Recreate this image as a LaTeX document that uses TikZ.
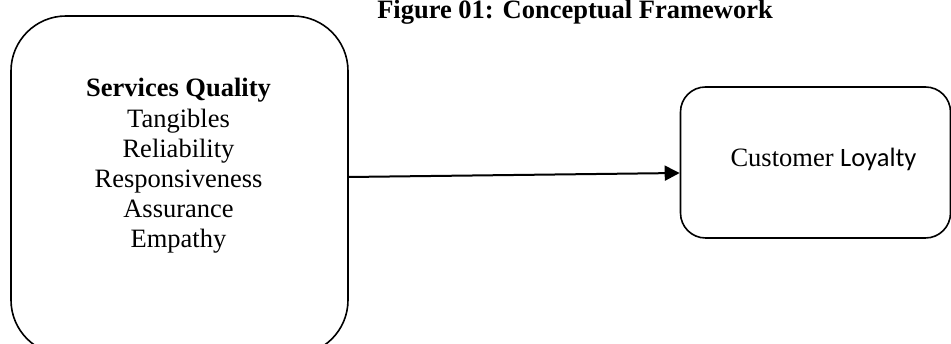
\documentclass[tikz,border=0pt]{standalone}
\usepackage{fontspec}
\setmainfont{Liberation Serif}
\newfontfamily\calfont{Carlito}
\usetikzlibrary{arrows.meta}
\begin{document}
\begin{tikzpicture}[x=1pt,y=1pt,
  boxline/.style={draw=black, line width=1.6pt, inner sep=0pt},
  txt/.style={inner sep=0pt, font=\fontsize{26.5}{30.2}\selectfont},
  conn/.style={draw=black, line width=2pt, -{Triangle[length=15pt,width=15pt]}}]
\useasboundingbox (0,0) rectangle (951,344);
\clip (0,0) rectangle (951,344);
\node[txt, anchor=base] (title) at (575,325) {\bfseries Figure 01: Conceptual Framework};
\node[boxline, rounded corners=55pt, minimum width=337pt, minimum height=339pt] (sq) at (179.5,158.5) {};
\node[txt, align=center, anchor=base] (sqtext) at (178.5,96) {\textbf{Services Quality}\\Tangibles\\Reliability\\Responsiveness\\Assurance\\Empathy};
\node[boxline, rounded corners=25pt, minimum width=270pt, minimum height=151pt] (cl) at (815.5,181.5) {};
\node[txt, anchor=base] (cltext) at (823.5,177) {Customer {\calfont Loyalty}};
\draw[conn] ([yshift=8.5pt]sq.east) -- ([yshift=-10.5pt]cl.west);
\end{tikzpicture}
\end{document}
